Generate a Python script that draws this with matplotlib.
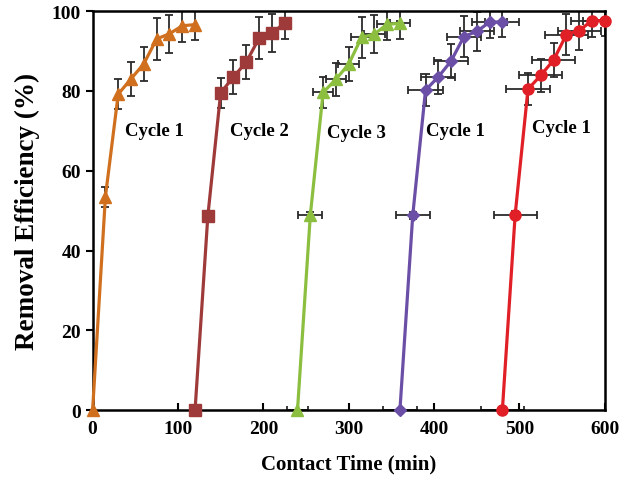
import numpy as np
import matplotlib
matplotlib.use('Agg')
import matplotlib.pyplot as plt

plt.rcParams['font.family'] = ['Liberation Serif', 'DejaVu Serif']
plt.rcParams['font.weight'] = 'bold'

# contact time (min) and removal efficiency (%) for each run
t1 = [0, 15, 30, 45, 60, 75, 90, 105, 120]
r1 = [0, 53.5, 79.2, 83.0, 86.8, 93.0, 94.3, 96.3, 96.6]
e1 = [0, 2.5, 3.8, 4.2, 4.3, 5.2, 4.8, 4.0, 3.8]

t2 = [120, 135, 150, 165, 180, 195, 210, 225]
r2 = [0, 48.7, 79.5, 83.5, 87.2, 93.2, 94.5, 96.9]
e2 = [0, 0.9, 3.8, 4.2, 4.3, 5.2, 4.8, 4.0]

t3 = [240, 255, 270, 285, 300, 315, 330, 345, 360]
r3 = [0, 48.8, 79.6, 82.9, 86.7, 93.4, 94.2, 96.7, 96.9]
e3 = [0, 0.9, 3.8, 4.2, 4.3, 5.2, 4.8, 4.0, 3.8]
x3 = [12, 14, 12, 12, 12, 12, 12, 12, 12]

t4 = [360, 375, 390, 405, 420, 435, 450, 465, 480]
r4 = [0, 48.8, 80.2, 83.5, 87.5, 93.6, 94.9, 97.2, 97.3]
e4 = [0, 0.9, 4.0, 4.2, 4.3, 5.2, 4.8, 4.0, 3.8]
x4 = [20, 20, 20, 20, 20, 20, 20, 20, 20]

t5 = [480, 495, 510, 525, 540, 555, 570, 585, 600]
r5 = [0, 49.0, 80.4, 83.9, 87.7, 94.1, 95.1, 97.6, 97.6]
e5 = [0, 0.9, 4.0, 4.2, 4.3, 5.2, 4.8, 4.0, 3.8]
x5 = [25, 25, 26, 25, 25, 25, 25, 25, 25]

labels = ['Cycle 1', 'Cycle 2', 'Cycle 3', 'Cycle 1', 'Cycle 1']
label_x = [73, 195, 309, 425, 549]
label_y = [70, 70, 69.5, 70, 70.7]

fig = plt.figure(figsize=(6.30, 4.81), dpi=100)
ax = fig.add_axes([0.147, 0.145, 0.813, 0.830])

ebkw = dict(fmt='none', ecolor='#2b2b2b', elinewidth=1.3, capsize=3, capthick=1.3, zorder=2)

ax.errorbar(t1, r1, yerr=e1, **ebkw)
ax.errorbar(t2, r2, yerr=e2, **ebkw)
ax.errorbar(t3, r3, yerr=e3, xerr=x3, **ebkw)
ax.errorbar(t4, r4, yerr=e4, xerr=x4, **ebkw)
ax.errorbar(t5, r5, yerr=e5, xerr=x5, **ebkw)

# lines + markers drawn on top, not clipped at the frame
ax.plot(t1, r1, color='#D0701F', marker='^', ms=8, lw=2.3, clip_on=False, zorder=3)
ax.plot(t2, r2, color='#9E3A3A', marker='s', ms=8, lw=2.3, clip_on=False, zorder=3)
ax.plot(t3, r3, color='#8CBF3F', marker='^', ms=8, lw=2.3, clip_on=False, zorder=3)
ax.plot(t4, r4, color='#6B4FA6', marker='D', ms=6, lw=2.3, clip_on=False, zorder=3)
ax.plot(t5, r5, color='#E11F26', marker='o', ms=8, lw=2.3, clip_on=False, zorder=3)

for lab, lx, ly in zip(labels, label_x, label_y):
    ax.text(lx, ly, lab, ha='center', va='center', fontsize=13.5, fontweight='bold')

ax.set_xlim(0, 600)
ax.set_ylim(0, 100)
ax.set_xticks(np.arange(0, 601, 100))
ax.set_yticks(np.arange(0, 101, 20))
ax.tick_params(axis='x', direction='in', length=5, width=1.5, labelsize=14, pad=7)
ax.tick_params(axis='y', direction='out', length=5, width=1.5, labelsize=14)
for sp in ax.spines.values():
    sp.set_linewidth(1.8)

ax.set_xlabel('Contact Time (min)', fontsize=15, fontweight='bold', labelpad=12)
ax.set_ylabel('Removal Efficiency (%)', fontsize=19.5, fontweight='bold', labelpad=8)

fig.savefig('out.png', dpi=100)
